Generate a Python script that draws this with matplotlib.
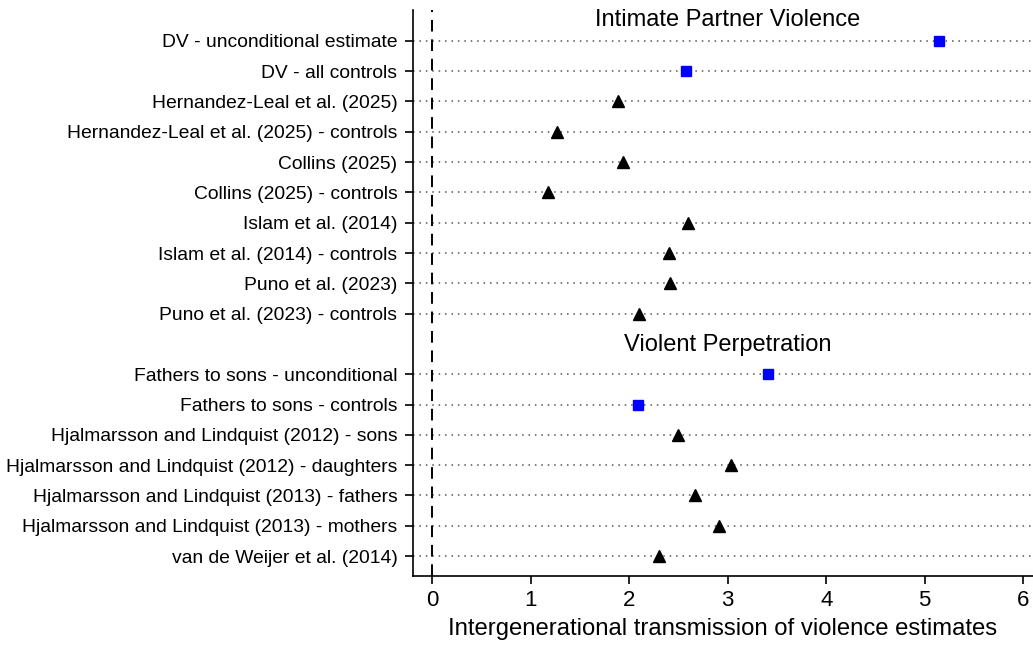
import numpy as np
import matplotlib.pyplot as plt

plt.rcParams['font.family'] = ['Liberation Sans', 'DejaVu Sans']

# Intimate partner violence estimates
ipv_labels = ["DV - unconditional estimate", "DV - all controls",
              "Hernandez-Leal et al. (2025)", "Hernandez-Leal et al. (2025) - controls",
              "Collins (2025)", "Collins (2025) - controls",
              "Islam et al. (2014)", "Islam et al. (2014) - controls",
              "Puno et al. (2023)", "Puno et al. (2023) - controls"]
ipv_values = [5.15, 2.58, 1.89, 1.27, 1.94, 1.17, 2.60, 2.40, 2.41, 2.10]
ipv_own = [True, True, False, False, False, False, False, False, False, False]

# Violent perpetration estimates
vp_labels = ["Fathers to sons - unconditional", "Fathers to sons - controls",
             "Hjalmarsson and Lindquist (2012) - sons",
             "Hjalmarsson and Lindquist (2012) - daughters",
             "Hjalmarsson and Lindquist (2013) - fathers",
             "Hjalmarsson and Lindquist (2013) - mothers",
             "van de Weijer et al. (2014)"]
vp_values = [3.41, 2.09, 2.49, 3.03, 2.67, 2.91, 2.30]
vp_own = [True, True, False, False, False, False, False]

labels = ipv_labels + vp_labels
values = ipv_values + vp_values
own = ipv_own + vp_own
ypos = list(range(len(ipv_labels))) + [len(ipv_labels) + 1 + i for i in range(len(vp_labels))]

fig = plt.figure(figsize=(10.33, 6.48), dpi=100)
ax = fig.add_axes([0.3995, 0.111, 0.6005, 0.8736])

for y in ypos:
    ax.axhline(y, color='#555555', linestyle=(0, (1, 3.2)), linewidth=1.1, zorder=1)
ax.axvline(0, color='black', linestyle=(0, (6, 4)), linewidth=1.4, zorder=2)

for y, v, o in zip(ypos, values, own):
    if o:
        ax.plot(v, y, marker='s', color='#0000ff', markersize=7, linestyle='none', zorder=3)
    else:
        ax.plot(v, y, marker='^', color='black', markersize=8, linestyle='none', zorder=3)

ax.text(3.0, -0.68, "Intimate Partner Violence", ha='center', va='center', fontsize=17)
ax.text(3.0, len(ipv_labels) + 0.05, "Violent Perpetration", ha='center', va='center', fontsize=17)

ax.set_yticks(ypos)
ax.set_yticklabels(labels, fontsize=13.85)
ax.set_ylim(17.66, -1.02)
ax.set_xlim(-0.2, 6.1)
ax.set_xticks([0, 1, 2, 3, 4, 5, 6])
ax.tick_params(axis='x', labelsize=16, length=6, width=1.2, pad=4)
ax.tick_params(axis='y', length=6, width=1.2, pad=5)
ax.set_xlabel("Intergenerational transmission of violence estimates", fontsize=17.2, labelpad=5)

ax.spines['top'].set_visible(False)
ax.spines['right'].set_visible(False)
ax.spines['left'].set_linewidth(1.2)
ax.spines['bottom'].set_linewidth(1.2)

fig.savefig("out.png", dpi=100)
